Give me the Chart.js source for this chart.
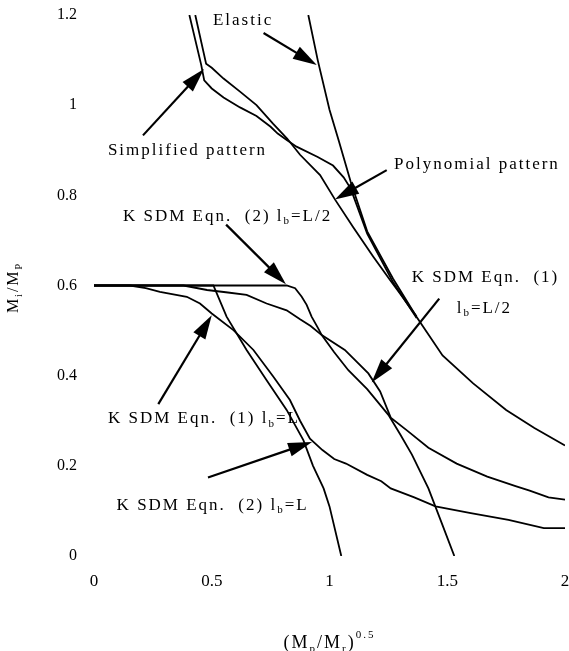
<!DOCTYPE html>
<html><head><meta charset="utf-8">
<script src="https://cdn.jsdelivr.net/npm/chart.js@4/dist/chart.umd.min.js"></script>
<style>html,body{margin:0;padding:0;background:#fff;}#wrap{width:569px;height:651px;position:relative;}</style>
</head><body><div id="wrap"><canvas id="c" width="569" height="651"></canvas></div>
<script>
// ---- data ----
const xTickValues = [0, 0.5, 1, 1.5, 2];
const xTickLabels = ['0', '0.5', '1', '1.5', '2'];
const yTickValues = [0, 0.2, 0.4, 0.6, 0.8, 1.0, 1.2];
const yTickLabels = ['0', '0.2', '0.4', '0.6', '0.8', '1', '1.2'];

const elasticX = [0.91, 0.95, 1.0, 1.04, 1.09, 1.16, 1.27, 1.37, 1.48, 1.61, 1.75, 1.87, 2.0];
const elasticY = [1.20, 1.10, 0.99, 0.92, 0.83, 0.72, 0.615, 0.53, 0.445, 0.383, 0.324, 0.284, 0.245];

const simplifiedX = [0.405, 0.455, 0.468, 0.50, 0.55, 0.62, 0.69, 0.75, 0.78, 0.82, 0.86, 0.95, 1.015, 1.06, 1.09, 1.16, 1.27, 1.37];
const simplifiedY = [1.20, 1.09, 1.055, 1.037, 1.017, 0.995, 0.976, 0.952, 0.937, 0.922, 0.908, 0.885, 0.866, 0.84, 0.815, 0.715, 0.607, 0.528];

const polynomialX = [0.43, 0.476, 0.50, 0.55, 0.62, 0.69, 0.76, 0.82, 0.875, 0.96, 1.023, 1.10, 1.186, 1.257, 1.30, 1.37];
const polynomialY = [1.20, 1.092, 1.083, 1.059, 1.03, 1.0, 0.959, 0.926, 0.89, 0.845, 0.791, 0.73, 0.664, 0.612, 0.582, 0.531];

const eq2HalfX = [0, 0.818, 0.854, 0.882, 0.903, 0.924, 0.952, 0.967, 1.02, 1.08, 1.16, 1.25, 1.30, 1.35, 1.42, 1.475, 1.53];
const eq2HalfY = [0.6, 0.6, 0.594, 0.575, 0.557, 0.531, 0.505, 0.49, 0.452, 0.412, 0.37, 0.313, 0.27, 0.225, 0.15, 0.075, 0];

const eq1HalfX = [0, 0.38, 0.48, 0.56, 0.648, 0.733, 0.818, 0.875, 0.92, 0.967, 1.065, 1.165, 1.215, 1.26, 1.33, 1.42, 1.54, 1.67, 1.79, 1.85, 1.93, 2.0];
const eq1HalfY = [0.6, 0.6, 0.59, 0.585, 0.579, 0.56, 0.545, 0.525, 0.51, 0.49, 0.457, 0.405, 0.365, 0.307, 0.278, 0.24, 0.205, 0.176, 0.155, 0.145, 0.13, 0.125];

const eq2FullX = [0, 0.507, 0.563, 0.648, 0.733, 0.818, 0.889, 0.93, 0.975, 1.0, 1.05];
const eq2FullY = [0.6, 0.6, 0.531, 0.457, 0.39, 0.324, 0.257, 0.2, 0.15, 0.11, 0];

const eq1FullX = [0, 0.153, 0.22, 0.28, 0.394, 0.45, 0.5, 0.592, 0.677, 0.761, 0.832, 0.875, 0.917, 0.97, 1.02, 1.07, 1.16, 1.22, 1.26, 1.36, 1.45, 1.60, 1.76, 1.91, 2.0];
const eq1FullY = [0.6, 0.6, 0.594, 0.586, 0.575, 0.56, 0.538, 0.501, 0.457, 0.398, 0.346, 0.3, 0.26, 0.235, 0.215, 0.205, 0.18, 0.166, 0.15, 0.13, 0.11, 0.095, 0.08, 0.062, 0.062];

// ---- annotation layout (in data units) ----
const FONT = 'Liberation Serif, "Times New Roman", serif';
const annotations = [
  { parts: [{t: 'Elastic'}], at: [0.505, 1.188], tail: [0.72, 1.16], tip: [0.946, 1.089] },
  { parts: [{t: 'Simplified pattern'}], at: [0.059, 0.900], tail: [0.208, 0.933], tip: [0.467, 1.08] },
  { parts: [{t: 'Polynomial pattern'}], at: [1.274, 0.868], tail: [1.243, 0.856], tip: [1.023, 0.791] },
  { parts: [{t: 'K SDM Eqn.  (2) l'}, {t: 'b', sub: true}, {t: '=L/2'}], at: [0.123, 0.754], tail: [0.561, 0.735], tip: [0.815, 0.603] },
  { parts: [{t: 'K SDM Eqn.  (1)'}], at: [1.349, 0.618], tail: [1.466, 0.571], tip: [1.179, 0.385] },
  { parts: [{t: 'l'}, {t: 'b', sub: true}, {t: '=L/2'}], at: [1.540, 0.550] },
  { parts: [{t: 'K SDM Eqn.  (1) l'}, {t: 'b', sub: true}, {t: '=L'}], at: [0.059, 0.305], tail: [0.273, 0.337], tip: [0.5, 0.534] },
  { parts: [{t: 'K SDM Eqn.  (2) l'}, {t: 'b', sub: true}, {t: '=L'}], at: [0.096, 0.113], tail: [0.484, 0.174], tip: [0.926, 0.253] }
];

function pts(xs, ys) { return xs.map((x, i) => ({x: x, y: ys[i]})); }
function line(label, xs, ys) {
  return { label: label, data: pts(xs, ys), showLine: true, borderColor: '#000', backgroundColor: '#000',
           borderWidth: 1.8, pointRadius: 0, tension: 0, fill: false };
}

function drawRich(ctx, parts, x, y, size, align) {
  ctx.save();
  ctx.textBaseline = 'middle';
  ctx.textAlign = 'left';
  const widths = parts.map(p => {
    ctx.font = (p.sub || p.sup ? Math.round(size * 0.62) : size) + 'px ' + FONT;
    return ctx.measureText(p.t).width;
  });
  const total = widths.reduce((a, b) => a + b, 0);
  let cx = align === 'center' ? x - total / 2 : x;
  parts.forEach((p, i) => {
    ctx.font = (p.sub || p.sup ? Math.round(size * 0.62) : size) + 'px ' + FONT;
    const dy = p.sub ? size * 0.32 : (p.sup ? -size * 0.42 : 0);
    ctx.fillText(p.t, cx, y + dy);
    cx += widths[i];
  });
  ctx.restore();
}

function drawArrow(ctx, x1, y1, x2, y2) {
  const ang = Math.atan2(y2 - y1, x2 - x1);
  const L = 24, W = 7;
  ctx.save();
  ctx.strokeStyle = '#000'; ctx.fillStyle = '#000'; ctx.lineWidth = 2.2;
  ctx.beginPath(); ctx.moveTo(x1, y1);
  ctx.lineTo(x2 - Math.cos(ang) * L * 0.8, y2 - Math.sin(ang) * L * 0.8); ctx.stroke();
  ctx.beginPath();
  ctx.moveTo(x2, y2);
  ctx.lineTo(x2 - Math.cos(ang) * L - Math.sin(ang) * W, y2 - Math.sin(ang) * L + Math.cos(ang) * W);
  ctx.lineTo(x2 - Math.cos(ang) * L + Math.sin(ang) * W, y2 - Math.sin(ang) * L - Math.cos(ang) * W);
  ctx.closePath(); ctx.fill();
  ctx.restore();
}

const annotatePlugin = {
  id: 'annotate',
  afterDraw(chart) {
    const ctx = chart.ctx, xs = chart.scales.x, ys = chart.scales.y, ca = chart.chartArea;
    ctx.save();
    ctx.fillStyle = '#000';
    if ('letterSpacing' in ctx) ctx.letterSpacing = '2px';
    annotations.forEach(a => {
      drawRich(ctx, a.parts, xs.getPixelForValue(a.at[0]), ys.getPixelForValue(a.at[1]), 17, 'left');
      if (a.tail) drawArrow(ctx, xs.getPixelForValue(a.tail[0]), ys.getPixelForValue(a.tail[1]),
                            xs.getPixelForValue(a.tip[0]), ys.getPixelForValue(a.tip[1]));
    });
    // axis titles
    drawRich(ctx, [{t: '(M'}, {t: 'p', sub: true}, {t: '/M'}, {t: 'r', sub: true}, {t: ')'}, {t: '0.5', sup: true}],
             (ca.left + ca.right) / 2, ca.bottom + 87, 18, 'center');
    ctx.translate(ca.left - 80, (ca.top + ca.bottom) / 2 + 2);
    ctx.rotate(-Math.PI / 2);
    drawRich(ctx, [{t: 'M'}, {t: 'i', sub: true}, {t: '/M'}, {t: 'P', sub: true}], 0, 0, 16, 'center');
    ctx.restore();
  }
};

new Chart(document.getElementById('c'), {
  type: 'scatter',
  data: { datasets: [
    line('Elastic', elasticX, elasticY),
    line('Simplified pattern', simplifiedX, simplifiedY),
    line('Polynomial pattern', polynomialX, polynomialY),
    line('KSDM Eqn. (2) lb=L/2', eq2HalfX, eq2HalfY),
    line('KSDM Eqn. (1) lb=L/2', eq1HalfX, eq1HalfY),
    line('KSDM Eqn. (2) lb=L', eq2FullX, eq2FullY),
    line('KSDM Eqn. (1) lb=L', eq1FullX, eq1FullY)
  ]},
  options: {
    responsive: false, animation: false, devicePixelRatio: 1,
    layout: { padding: { left: 0, right: 4, top: 15, bottom: 0 } },
    plugins: { legend: { display: false }, tooltip: { enabled: false } },
    scales: {
      x: { type: 'linear', min: 0, max: 2,
        grid: { display: false, drawTicks: false }, border: { display: false },
        afterBuildTicks: s => { s.ticks = xTickValues.map(v => ({value: v})); },
        afterFit: s => { s.height = 95; s.paddingLeft = 0; s.paddingRight = 0; },
        ticks: { color: '#000', font: { family: FONT, size: 17 }, padding: 15, maxRotation: 0,
          callback: (v, i) => xTickLabels[i] } },
      y: { type: 'linear', min: 0, max: 1.2,
        grid: { display: false, drawTicks: false }, border: { display: false },
        afterBuildTicks: s => { s.ticks = yTickValues.map(v => ({value: v})); },
        afterFit: s => { s.width = 94; s.paddingTop = 0; s.paddingBottom = 0; },
        ticks: { color: '#000', font: { family: FONT, size: 16 }, padding: 17,
          callback: (v, i) => yTickLabels[i] } }
    }
  },
  plugins: [annotatePlugin]
});
</script></body></html>
